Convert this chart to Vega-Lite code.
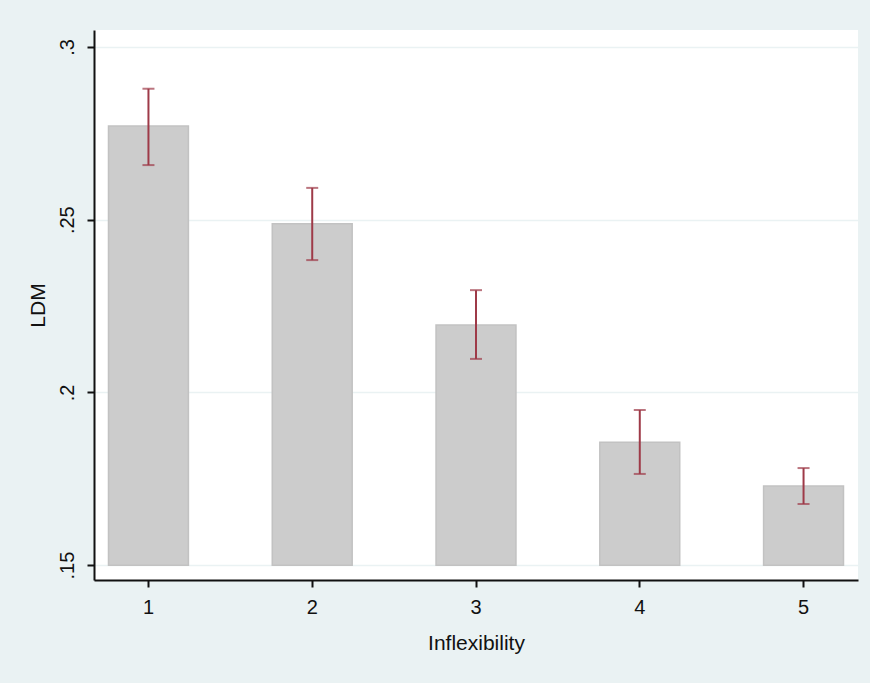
{
  "$schema": "https://vega.github.io/schema/vega-lite/v6.json",
  "autosize": "none",
  "width": 764,
  "height": 550,
  "padding": {"left": 94, "top": 30, "right": 12, "bottom": 103},
  "background": "#EAF2F3",
  "config": {
    "view": {"fill": "white", "stroke": null},
    "font": "Liberation Sans",
    "axis": {
      "labelFont": "Liberation Sans",
      "titleFont": "Liberation Sans",
      "labelFontSize": 20,
      "titleFontSize": 21,
      "titleFontWeight": "normal",
      "labelColor": "#111111",
      "titleColor": "#111111",
      "domainColor": "#111111",
      "tickColor": "#111111",
      "domainWidth": 2,
      "tickWidth": 2,
      "tickSize": 7
    }
  },
  "data": {
    "values": [
      {"inflex": 1, "ldm": 0.2771, "lo": 0.2658, "hi": 0.2879},
      {"inflex": 2, "ldm": 0.2488, "lo": 0.2383, "hi": 0.2592},
      {"inflex": 3, "ldm": 0.2195, "lo": 0.2097, "hi": 0.2296},
      {"inflex": 4, "ldm": 0.1856, "lo": 0.1764, "hi": 0.1949},
      {"inflex": 5, "ldm": 0.1729, "lo": 0.1677, "hi": 0.1781}
    ]
  },
  "encoding": {
    "x": {
      "field": "inflex",
      "type": "ordinal",
      "title": "Inflexibility",
      "scale": {"paddingInner": 0.512, "paddingOuter": 0.0885},
      "axis": {"labelAngle": 0, "labelPadding": 10, "titlePadding": 15, "grid": false}
    }
  },
  "layer": [
    {
      "mark": {"type": "bar", "fill": "#CCCCCC", "stroke": "#C2C2C2", "strokeWidth": 1.5, "clip": true},
      "encoding": {
        "y": {
          "field": "ldm",
          "type": "quantitative",
          "title": "LDM",
          "scale": {"domain": [0.1457, 0.3049], "nice": false, "zero": false},
          "axis": {
            "values": [0.15, 0.2, 0.25, 0.3],
            "format": ".2~f",
            "labelExpr": "replace(datum.label, /^0/, '')",
            "labelAngle": -90,
            "labelAlign": "center",
            "labelBaseline": "bottom",
            "labelPadding": 10,
            "titlePadding": 9,
            "grid": true,
            "gridColor": "#EAF2F3",
            "gridWidth": 1.5
          }
        },
        "y2": {"datum": 0.15}
      }
    },
    {
      "mark": {"type": "rule", "color": "#9E3A48", "strokeWidth": 2},
      "encoding": {
        "y": {"field": "lo", "type": "quantitative"},
        "y2": {"field": "hi"}
      }
    },
    {
      "mark": {"type": "tick", "color": "#9E3A48", "thickness": 2, "size": 12, "orient": "horizontal"},
      "encoding": {"y": {"field": "lo", "type": "quantitative"}}
    },
    {
      "mark": {"type": "tick", "color": "#9E3A48", "thickness": 2, "size": 12, "orient": "horizontal"},
      "encoding": {"y": {"field": "hi", "type": "quantitative"}}
    }
  ]
}
